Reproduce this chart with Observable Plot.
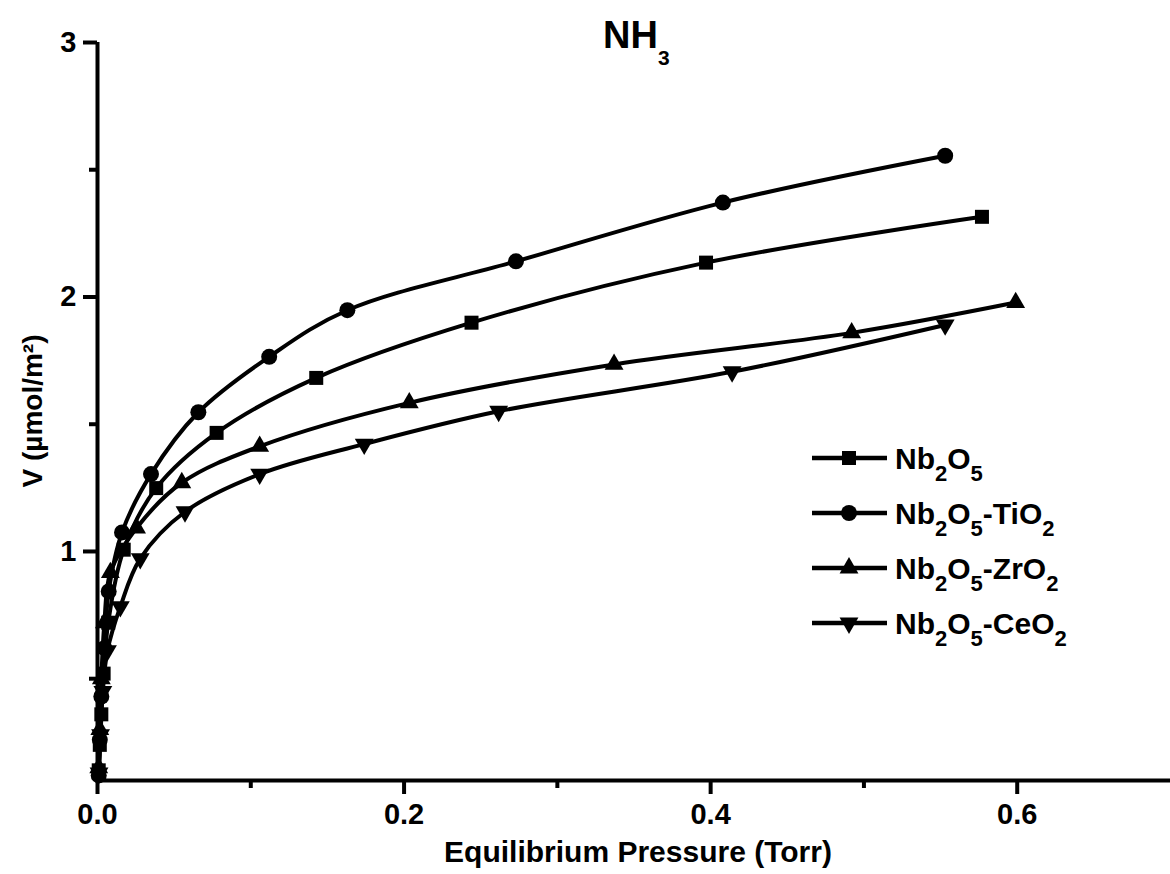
<!DOCTYPE html>
<html><head><meta charset="utf-8">
<script src="https://cdn.jsdelivr.net/npm/d3@7"></script>
<script src="https://cdn.jsdelivr.net/npm/@observablehq/plot@0.6"></script>
<style>
body{margin:0;background:#fff;}
#wrap{position:relative;width:1170px;height:874px;}
</style></head><body><div id="wrap"></div>
<script>
// ---- data ----
const seriesNames = ["Nb2O5", "Nb2O5-TiO2", "Nb2O5-ZrO2", "Nb2O5-CeO2"];
const seriesSymbols = ["square", "circle", "triangle", "triangle"];
const seriesRotate = [0, 0, 0, 180];

const nb2o5X = [0.0008, 0.0015, 0.0025, 0.004, 0.007, 0.0171, 0.0383, 0.0777, 0.1427, 0.244, 0.397, 0.577];
const nb2o5Y = [0.14, 0.24, 0.36, 0.52, 0.72, 1.007, 1.249, 1.466, 1.682, 1.899, 2.135, 2.315];

const tiX = [0.0008, 0.0015, 0.0025, 0.0045, 0.0073, 0.016, 0.0349, 0.0658, 0.112, 0.163, 0.273, 0.408, 0.553];
const tiY = [0.12, 0.26, 0.43, 0.62, 0.843, 1.075, 1.304, 1.547, 1.765, 1.948, 2.14, 2.371, 2.555];

const zrX = [0.0008, 0.0015, 0.0025, 0.0045, 0.0084, 0.0255, 0.055, 0.1058, 0.2034, 0.337, 0.492, 0.599];
const zrY = [0.15, 0.30, 0.50, 0.72, 0.917, 1.092, 1.270, 1.413, 1.584, 1.735, 1.859, 1.978];

const ceX = [0.001, 0.002, 0.0035, 0.0065, 0.0149, 0.0279, 0.0571, 0.1058, 0.174, 0.2617, 0.414, 0.553];
const ceY = [0.13, 0.28, 0.45, 0.61, 0.783, 0.972, 1.156, 1.304, 1.422, 1.551, 1.706, 1.890];

const xMajorTicks = [0, 0.2, 0.4, 0.6];
const xMinorTicks = [0.1, 0.3, 0.5];
const yMajorTicks = [1, 2, 3];
const yMinorTicks = [0.5, 1.5, 2.5];

const titleMain = "NH", titleSub = "3";
const xLabel = "Equilibrium Pressure (Torr)";
const yLabel = "V (µmol/m²)";

// ---- build table ----
const xs = [nb2o5X, tiX, zrX, ceX];
const ys = [nb2o5Y, tiY, zrY, ceY];
const rows = [];
seriesNames.forEach((s, i) => xs[i].forEach((x, j) => rows.push({series: s, idx: i, x, y: ys[i][j]})));

const FONT = "'Liberation Sans', Arial, sans-serif";
const sizes = {square: 7.9, circle: 8, triangle: 7};

const dotMarks = seriesNames.map((s, i) => Plot.dot(rows.filter(d => d.series === s), {
  x: "x", y: "y", symbol: () => seriesSymbols[i], r: sizes[seriesSymbols[i]],
  rotate: seriesRotate[i], fill: "black", stroke: "none"
}));

const chart = Plot.plot({
  width: 1170, height: 874,
  marginLeft: 97, marginRight: 0, marginTop: 42, marginBottom: 94,
  style: {fontFamily: FONT, fontWeight: "bold", color: "black", background: "white", overflow: "visible"},
  x: {domain: [0, 0.7]},
  y: {domain: [0.1, 3]},
  symbol: {type: "identity"},
  marks: [
    Plot.axisX({ticks: xMajorTicks, tickSize: 14, tickPadding: 9, tickFormat: d => d.toFixed(1), label: null, fontSize: 29, fontWeight: "bold", strokeWidth: 4}),
    Plot.axisX({ticks: xMinorTicks, tickSize: 8, tickFormat: () => "", label: null, strokeWidth: 4}),
    Plot.axisY({ticks: yMajorTicks, tickSize: 14, tickPadding: 7, tickFormat: d => String(d), label: null, fontSize: 29, fontWeight: "bold", strokeWidth: 4}),
    Plot.axisY({ticks: yMinorTicks, tickSize: 8, tickFormat: () => "", label: null, strokeWidth: 4}),
    Plot.ruleX([0], {strokeWidth: 4}),
    Plot.ruleY([0.1], {strokeWidth: 4}),
    Plot.line(rows, {x: "x", y: "y", z: "series", curve: "catmull-rom", stroke: "black", strokeWidth: 4}),
    ...dotMarks
  ]
});
document.getElementById("wrap").appendChild(chart);

// ---- titles, labels, legend (real text) ----
const svg = d3.select(chart);
const t = svg.append("text").attr("x", 603).attr("y", 48).attr("text-anchor", "start")
  .attr("font-family", FONT).attr("font-weight", "bold").attr("font-size", 38).attr("fill", "black");
t.append("tspan").text(titleMain);
t.append("tspan").attr("font-size", 21).attr("dy", 17).text(titleSub);

svg.append("text").attr("x", 638).attr("y", 862).attr("text-anchor", "middle")
  .attr("font-family", FONT).attr("font-weight", "bold").attr("font-size", 30).attr("fill", "black").text(xLabel);

svg.append("text").attr("transform", "translate(42,411) rotate(-90)").attr("text-anchor", "middle")
  .attr("font-family", FONT).attr("font-weight", "bold").attr("font-size", 28).attr("fill", "black").text(yLabel);

const legendY = [458, 513, 568, 623];
const symbolGen = {square: d3.symbolSquare, circle: d3.symbolCircle, triangle: d3.symbolTriangle};
seriesNames.forEach((name, i) => {
  const g = svg.append("g").attr("transform", `translate(0,${legendY[i]})`);
  g.append("line").attr("x1", 812).attr("x2", 887).attr("y1", 0).attr("y2", 0).attr("stroke", "black").attr("stroke-width", 4.5);
  const sym = seriesSymbols[i], r = sizes[sym];
  g.append("path").attr("d", d3.symbol(symbolGen[sym], r * r * Math.PI)())
    .attr("transform", `translate(849,0) rotate(${seriesRotate[i]})`).attr("fill", "black");
  const txt = g.append("text").attr("x", 895).attr("y", 11).attr("text-anchor", "start")
    .attr("font-family", FONT).attr("font-weight", "bold").attr("font-size", 30).attr("fill", "black");
  // split into normal / subscript (digits) runs
  const parts = name.match(/\d+|\D+/g);
  let sub = false;
  parts.forEach(p => {
    const isDigit = /^\d+$/.test(p);
    const ts = txt.append("tspan").text(p);
    if (isDigit && !sub) { ts.attr("font-size", 22).attr("dy", 12); sub = true; }
    else if (!isDigit && sub) { ts.attr("dy", -12); sub = false; }
    else if (isDigit) ts.attr("font-size", 22);
  });
});
</script>
</body></html>
